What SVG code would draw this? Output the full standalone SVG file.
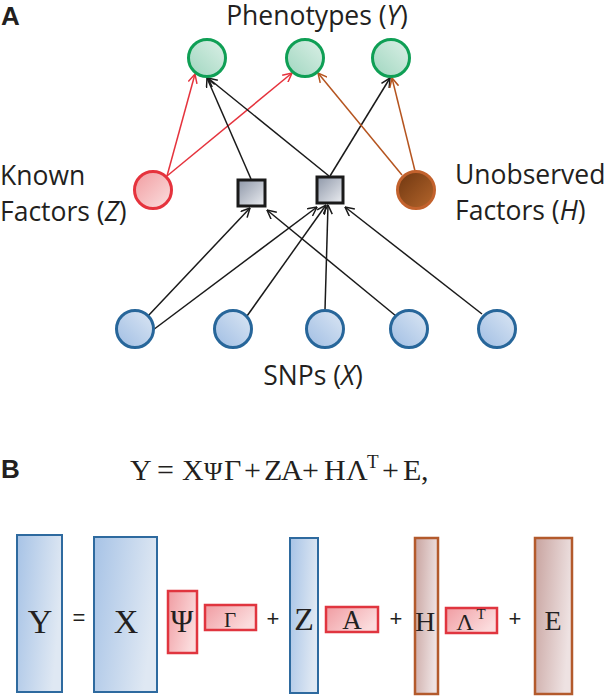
<svg xmlns="http://www.w3.org/2000/svg" width="606" height="696" viewBox="0 0 606 696">
<defs>
<linearGradient id="gGreen" x1="0" y1="1" x2="1" y2="0"><stop offset="0" stop-color="#9fd6bf"/><stop offset="1" stop-color="#dcf0e7"/></linearGradient>
<linearGradient id="gRed" x1="0" y1="0" x2="1" y2="1"><stop offset="0" stop-color="#f19ca0"/><stop offset="1" stop-color="#fbe0e0"/></linearGradient>
<linearGradient id="gBrown" x1="0" y1="0" x2="1" y2="1"><stop offset="0" stop-color="#6e3610"/><stop offset="1" stop-color="#b5662c"/></linearGradient>
<linearGradient id="gBlue" x1="0" y1="1" x2="1" y2="0"><stop offset="0" stop-color="#9fbde3"/><stop offset="1" stop-color="#dce7f4"/></linearGradient>
<linearGradient id="gGray" x1="0" y1="0" x2="1" y2="1"><stop offset="0" stop-color="#8e97a8"/><stop offset="1" stop-color="#eceef2"/></linearGradient>
<linearGradient id="mBlue" x1="0" y1="0" x2="1" y2="0.3"><stop offset="0" stop-color="#a7c3e6"/><stop offset="1" stop-color="#dfe8f3"/></linearGradient>
<linearGradient id="mRed" x1="0" y1="0" x2="1" y2="0.5"><stop offset="0" stop-color="#f09ca2"/><stop offset="1" stop-color="#fbdcdd"/></linearGradient>
<linearGradient id="mBrown" x1="0" y1="0" x2="1" y2="0.3"><stop offset="0" stop-color="#c8a39f"/><stop offset="1" stop-color="#eee2e2"/></linearGradient>
<marker id="aBlack" viewBox="0 0 10 10" refX="9.5" refY="5" markerWidth="10" markerHeight="10" markerUnits="userSpaceOnUse" orient="auto"><path d="M0.5,0.5 L9.5,5 L0.5,9.5" fill="none" stroke="#1a1a1a" stroke-width="1.5"/></marker>
<marker id="aRed" viewBox="0 0 10 10" refX="9.5" refY="5" markerWidth="10" markerHeight="10" markerUnits="userSpaceOnUse" orient="auto"><path d="M0.5,0.5 L9.5,5 L0.5,9.5" fill="none" stroke="#e5333d" stroke-width="1.5"/></marker>
<marker id="aBrown" viewBox="0 0 10 10" refX="9.5" refY="5" markerWidth="10" markerHeight="10" markerUnits="userSpaceOnUse" orient="auto"><path d="M0.5,0.5 L9.5,5 L0.5,9.5" fill="none" stroke="#b5541f" stroke-width="1.5"/></marker>
</defs>
<style>
.lbl{font-family:"Open Sans","Liberation Sans",sans-serif;font-size:26.5px;fill:#231f20}
.hdr{font-family:"Liberation Sans",Arial,sans-serif;font-weight:bold;font-size:26px;fill:#231f20}
.math{font-family:"Liberation Serif","Times New Roman",serif;fill:#231f20}
.op{font-family:"Liberation Sans",Arial,sans-serif;font-size:22px;fill:#231f20;text-anchor:middle}
.ph{fill:url(#gGreen);stroke:#0f9f55;stroke-width:3}
.snp{fill:url(#gBlue);stroke:#27669a;stroke-width:3}
.sq{fill:url(#gGray);stroke:#1a1a1a;stroke-width:3}
.eb{stroke:#1a1a1a;stroke-width:1.5;fill:none;marker-end:url(#aBlack)}
.er{stroke:#e5333d;stroke-width:1.5;fill:none;marker-end:url(#aRed)}
.ew{stroke:#b5541f;stroke-width:1.5;fill:none;marker-end:url(#aBrown)}
.bb{fill:url(#mBlue);stroke:#2e6a9f;stroke-width:2}
.rb{fill:url(#mRed);stroke:#e0353f;stroke-width:2.5}
.wb{fill:url(#mBrown);stroke:#b35a2c;stroke-width:2.5}
</style>
<rect width="606" height="696" fill="#ffffff"/>

<text class="hdr" x="1" y="25">A</text>
<text class="lbl" x="317" y="25" text-anchor="middle">Phenotypes (<tspan font-style="italic">Y</tspan>)</text>
<text class="lbl" x="0" y="185">Known</text>
<text class="lbl" x="0" y="221">Factors (<tspan font-style="italic">Z</tspan>)</text>
<text class="lbl" x="455" y="184">Unobserved</text>
<text class="lbl" x="455" y="220">Factors (<tspan font-style="italic">H</tspan>)</text>
<text class="lbl" x="313" y="385" text-anchor="middle">SNPs (<tspan font-style="italic">X</tspan>)</text>

<g id="edges">
<line class="er" x1="167" y1="176" x2="195" y2="74"/>
<line class="er" x1="167" y1="176" x2="292" y2="73"/>
<line class="eb" x1="251" y1="179" x2="207" y2="78"/>
<line class="eb" x1="329" y1="176" x2="208" y2="78"/>
<line class="eb" x1="330" y1="176" x2="390" y2="78"/>
<line class="ew" x1="402" y1="175" x2="318" y2="73"/>
<line class="ew" x1="415" y1="171" x2="392" y2="78"/>
<line class="eb" x1="148" y1="316" x2="250" y2="208"/>
<line class="eb" x1="153" y1="330" x2="317" y2="207"/>
<line class="eb" x1="247" y1="316" x2="326" y2="205"/>
<line class="eb" x1="325" y1="310" x2="328" y2="205"/>
<line class="eb" x1="396" y1="316" x2="267" y2="210"/>
<line class="eb" x1="482" y1="314" x2="345" y2="207"/>
</g>

<g id="y1"><circle class="ph" cx="207" cy="58" r="18.5"/></g>
<g id="y2"><circle class="ph" cx="305" cy="58" r="18.5"/></g>
<g id="y3"><circle class="ph" cx="391" cy="58" r="18.5"/></g>
<g id="z"><circle cx="153" cy="190" r="18.5" fill="url(#gRed)" stroke="#e5333d" stroke-width="3"/></g>
<g id="h"><circle cx="416" cy="190" r="18.5" fill="url(#gBrown)" stroke="#c3622d" stroke-width="3"/></g>
<g id="s1"><rect class="sq" x="238" y="180" width="27" height="26"/></g>
<g id="s2"><rect class="sq" x="317" y="177" width="26" height="26"/></g>
<g id="x1"><circle class="snp" cx="135" cy="329" r="18.5"/></g>
<g id="x2"><circle class="snp" cx="233" cy="329" r="18.5"/></g>
<g id="x3"><circle class="snp" cx="325" cy="329" r="18.5"/></g>
<g id="x4"><circle class="snp" cx="409" cy="329" r="18.5"/></g>
<g id="x5"><circle class="snp" cx="497" cy="329" r="18.5"/></g>

<text class="hdr" x="1" y="478">B</text>
<text class="math" y="480" font-size="30"><tspan x="130">Y</tspan><tspan x="157">=</tspan><tspan x="182">X</tspan><tspan x="204" font-size="25">Ψ</tspan><tspan x="224">Γ</tspan><tspan x="244">+</tspan><tspan x="264">Z</tspan><tspan x="281">A</tspan><tspan x="302">+</tspan><tspan x="324">H</tspan><tspan x="346">Λ</tspan><tspan x="367" y="468" font-size="19">T</tspan><tspan x="382" y="480">+</tspan><tspan x="403">E</tspan><tspan x="421">,</tspan></text>

<g id="mY"><rect class="bb" x="17" y="535" width="45" height="157"/><text class="math" x="40" y="633" font-size="34" text-anchor="middle">Y</text></g>
<text class="op" x="79" y="625">=</text>
<g id="mX"><rect class="bb" x="94" y="537" width="63" height="155"/><text class="math" x="126" y="633" font-size="34" text-anchor="middle">X</text></g>
<g id="mPsi"><rect class="rb" x="168" y="591" width="29" height="62"/><text class="math" x="182" y="632" font-size="31" text-anchor="middle">Ψ</text></g>
<g id="mGamma"><rect class="rb" x="205" y="605" width="51" height="25"/><text class="math" x="230" y="627" font-size="21" text-anchor="middle">Γ</text></g>
<text class="op" x="273" y="626">+</text>
<g id="mZ"><rect class="bb" x="290" y="538" width="28" height="155"/><text class="math" x="304" y="630" font-size="32" text-anchor="middle">Z</text></g>
<g id="mA"><rect class="rb" x="326" y="607" width="52" height="25"/><text class="math" x="352" y="629" font-size="27" text-anchor="middle">A</text></g>
<text class="op" x="396" y="626">+</text>
<g id="mH"><rect class="wb" x="415" y="538" width="23" height="156"/><text class="math" x="425" y="631" font-size="28" text-anchor="middle">H</text></g>
<g id="mL"><rect class="rb" x="446" y="608" width="51" height="25"/><text class="math" x="465" y="630" font-size="24" text-anchor="middle">Λ</text><text class="math" x="481" y="619" font-size="15" text-anchor="middle">T</text></g>
<text class="op" x="515" y="626">+</text>
<g id="mE"><rect class="wb" x="535" y="538" width="37" height="156"/><text class="math" x="553" y="630" font-size="28" text-anchor="middle">E</text></g>
</svg>
